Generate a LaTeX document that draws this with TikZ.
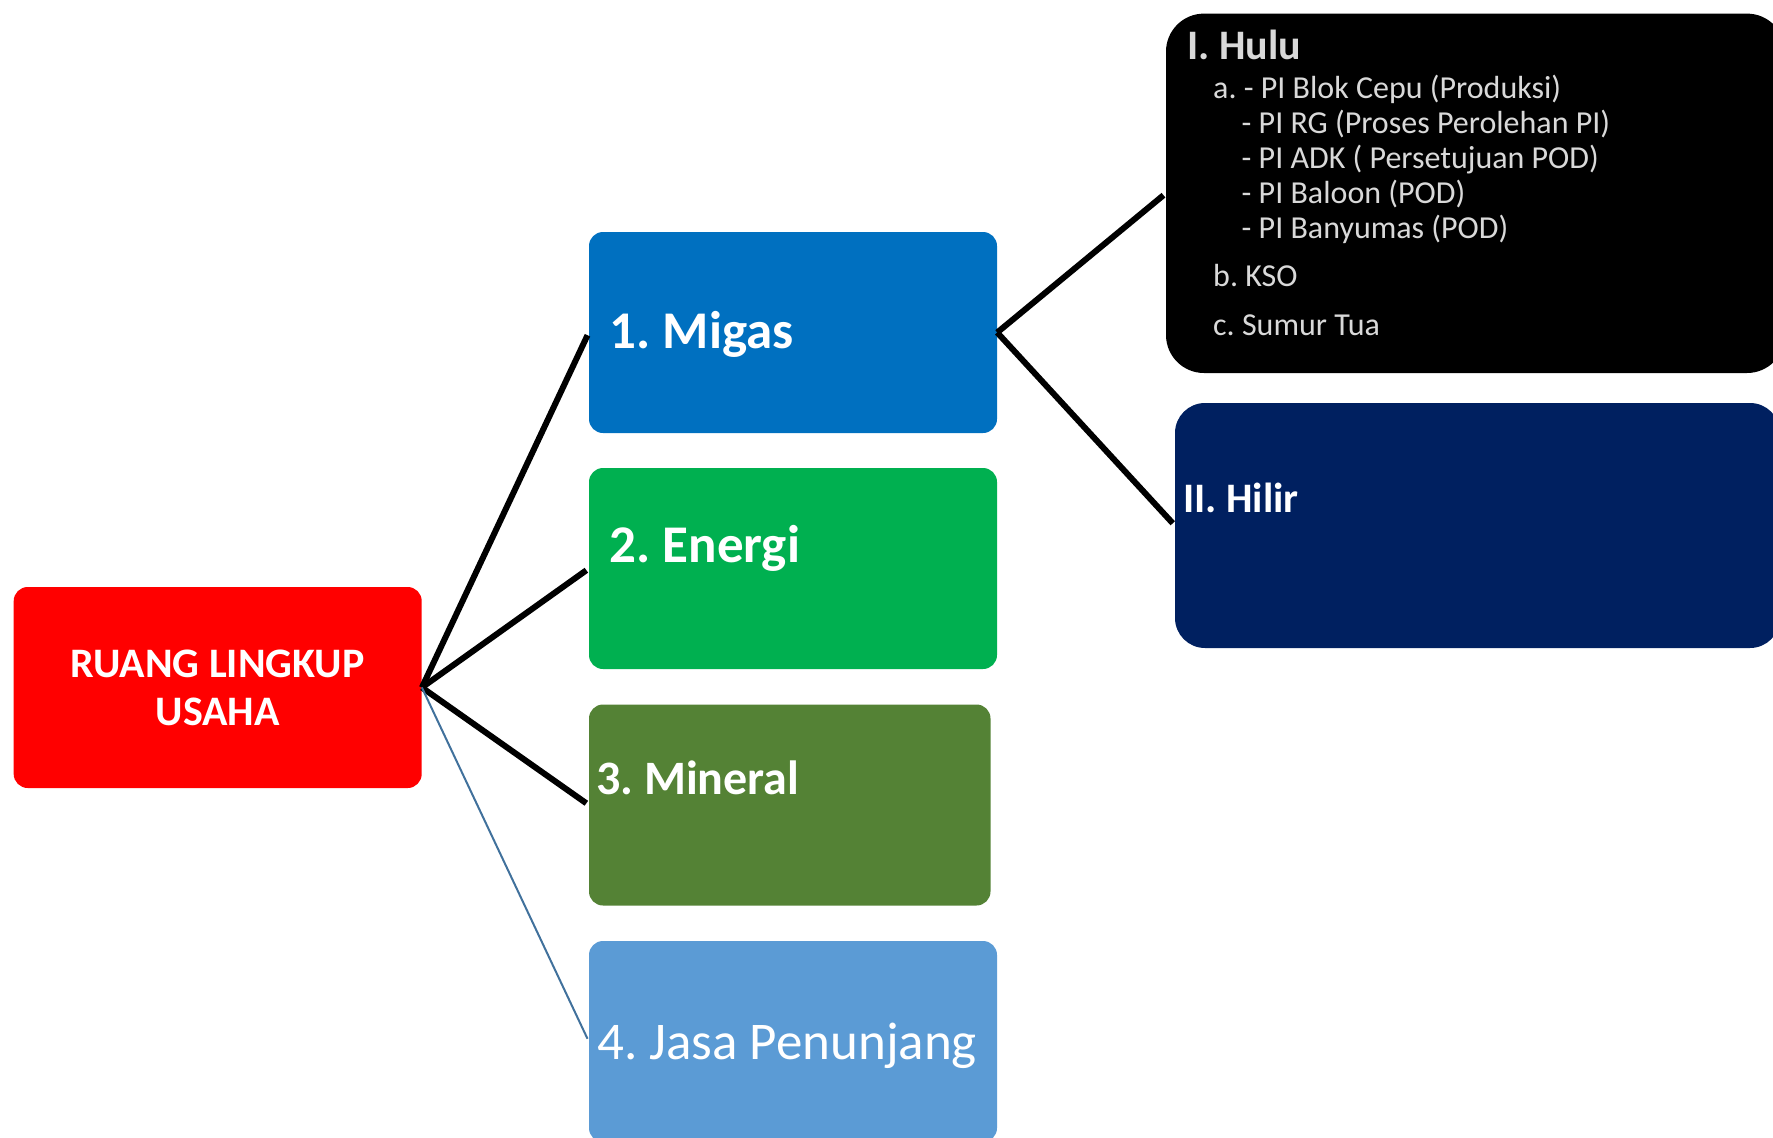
\documentclass[tikz,border=0pt]{standalone}
\usepackage{fontspec}
\setmainfont{Carlito}
\frenchspacing
\definecolor{rootred}{HTML}{FF0000}
\definecolor{migasblue}{HTML}{0070C0}
\definecolor{energigreen}{HTML}{00B050}
\definecolor{mineralgreen}{HTML}{548235}
\definecolor{jasablue}{HTML}{5B9BD5}
\definecolor{hilirnavy}{HTML}{002060}
\definecolor{jasaline}{HTML}{41719C}
\definecolor{hulugray}{HTML}{D9D9D9}
\begin{document}
\begin{tikzpicture}[x=1pt,y=-1pt,
    boxfill/.style={fill=#1, rounded corners=14pt, inner sep=0pt, minimum height=201pt, minimum width=408pt},
    lbl/.style={anchor=base west, inner sep=0pt, text=white},
    big/.style={font=\bfseries\fontsize{53}{60}\selectfont},
    listtext/.style={anchor=base west, inner sep=0pt, text=hulugray, font=\fontsize{32}{35}\selectfont},
    branch/.style={line width=6pt, shorten >=3pt}]
    \path[use as bounding box] (0,0) rectangle (1773,1138);
    \clip (0,0) rectangle (1773,1138);

    % boxes
    \node[boxfill=rootred, text=white, align=center, font=\bfseries\fontsize{42}{48}\selectfont] (root) at (217.7,687.5) {RUANG LINGKUP\\USAHA};
    \node[boxfill=migasblue] (migas) at (793,332.5) {};
    \node[boxfill=energigreen] (energi) at (793,568.5) {};
    \node[boxfill=mineralgreen, minimum width=401.5pt] (mineral) at (789.75,805) {};
    \node[boxfill=jasablue] (jasa) at (793,1041.5) {};
    \node[boxfill=black, rounded corners=38pt, minimum width=619pt, minimum height=359.4pt] (hulu) at (1475.5,193.3) {};
    \node[boxfill=hilirnavy, rounded corners=30pt, minimum width=605pt, minimum height=245pt] (hilir) at (1477.5,525.5) {};

    % labels
    \node[lbl, big] (migaslbl) at (609.5,348) {1. Migas};
    \node[lbl, big] (energilbl) at (609.5,562) {2. Energi};
    \node[lbl, font=\bfseries\fontsize{48}{56}\selectfont] (minerallbl) at (596,794) {3. Mineral};
    \node[lbl, font=\fontsize{53}{60}\selectfont] (jasalbl) at (597,1059) {4. Jasa Penunjang};
    \node[lbl, font=\bfseries\fontsize{42}{48}\selectfont] (hilirlbl) at (1183,512) {II. Hilir};
    \node[lbl, text=hulugray, font=\bfseries\fontsize{42}{48}\selectfont] (hululbl) at (1187,59.3) {I. Hulu};

    \node[listtext] (hulua) at (1213,98.3) {a. - PI Blok Cepu (Produksi)};
    \foreach \y/\txt [count=\i] in {133.3/{- PI RG (Proses Perolehan PI)}, 168.3/{- PI ADK ( Persetujuan POD)}, 203.3/{- PI Baloon (POD)}, 238.3/{- PI Banyumas (POD)}}
        \node[listtext] (hulua\i) at (1241.5,\y) {\txt};
    \node[listtext] (hulub) at (1213,286.7) {b. KSO};
    \node[listtext] (huluc) at (1213,335) {c. Sumur Tua};

    % connectors
    \draw[branch] (root.east) -- (migas.west);
    \draw[branch] (root.east) -- (energi.west);
    \draw[branch] (root.east) -- (mineral.west);
    \draw[jasaline, line width=2pt, shorten >=3pt] (root.east) -- (jasa.west);
    \draw[branch] (migas.east) -- (hulu.west);
    \draw[branch] (migas.east) -- (hilir.west);
\end{tikzpicture}
\end{document}
